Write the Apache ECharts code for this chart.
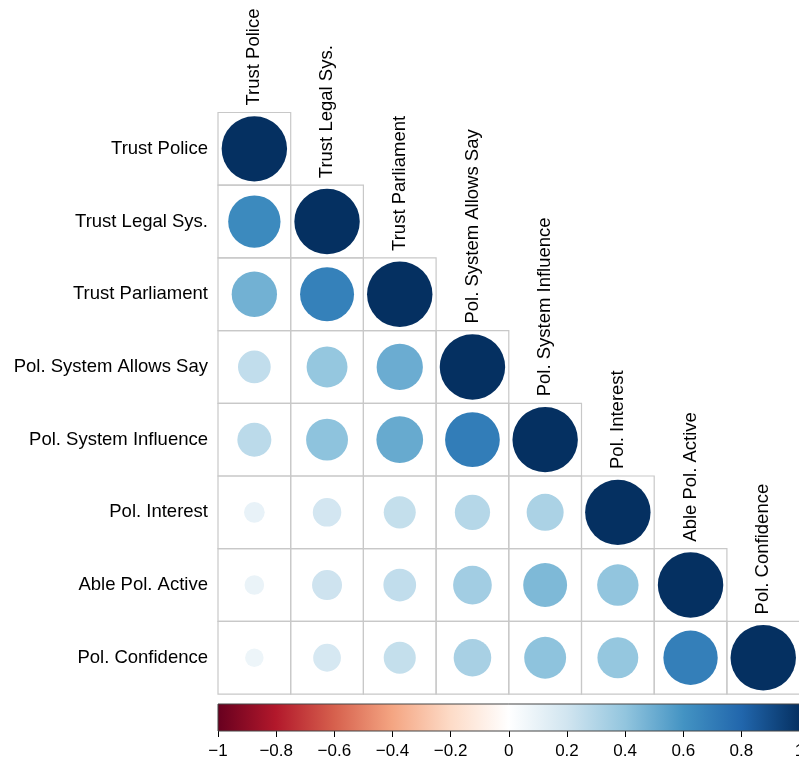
<!DOCTYPE html>
<html>
<head>
<meta charset="utf-8">
<script src="https://cdn.jsdelivr.net/npm/echarts@6/dist/echarts.min.js"></script>
<style>html,body{margin:0;padding:0;background:#fff}#c{width:799px;height:765px}</style>
</head>
<body>
<div id="c"></div>
<script>
// Variable labels (order of rows and columns)
const labels = ["Trust Police", "Trust Legal Sys.", "Trust Parliament", "Pol. System Allows Say",
  "Pol. System Influence", "Pol. Interest", "Able Pol. Active", "Pol. Confidence"];

// Lower-triangle correlations, one array per row (columns 0..row)
const rowTrustPolice   = [1];
const rowTrustLegal    = [0.64, 1];
const rowTrustParl     = [0.48, 0.68, 1];
const rowAllowsSay     = [0.25, 0.39, 0.50, 1];
const rowInfluence     = [0.27, 0.41, 0.51, 0.70, 1];
const rowInterest      = [0.10, 0.19, 0.24, 0.29, 0.32, 1];
const rowAbleActive    = [0.09, 0.21, 0.25, 0.35, 0.45, 0.40, 1];
const rowConfidence    = [0.08, 0.18, 0.24, 0.33, 0.41, 0.39, 0.69, 1];

// Colour bar ticks
const barMin = -1, barMax = 1, barStep = 0.2;

// Palette (corrplot RdBu)
const palette = ["#67001F", "#B2182B", "#D6604D", "#F4A582", "#FDDBC7", "#FFFFFF",
  "#D1E5F0", "#92C5DE", "#4393C3", "#2166AC", "#053061"];

const rows = [rowTrustPolice, rowTrustLegal, rowTrustParl, rowAllowsSay,
  rowInfluence, rowInterest, rowAbleActive, rowConfidence];
const cellData = [];
rows.forEach((r, i) => r.forEach((v, j) => cellData.push([j, i, v])));
const diagData = labels.map((l, i) => [i, i]);

const FONT = '"Liberation Sans", Arial, sans-serif';
const LABEL_SIZE = 18.5;
const chart = echarts.init(document.getElementById('c'));
const gridW = 581.6;

chart.setOption({
  animation: false,
  backgroundColor: '#fff',
  grid: [
    { left: 218, top: 112.5, width: gridW, height: gridW, outerBoundsMode: 'none', containLabel: false },
    { left: 218, top: 704, width: gridW, height: 27, outerBoundsMode: 'none', containLabel: false }
  ],
  xAxis: [
    { type: 'category', data: labels, gridIndex: 0, show: false },
    { type: 'value', gridIndex: 1, min: barMin, max: barMax, interval: barStep,
      position: 'bottom',
      axisLine: { show: false },
      axisTick: { show: true, length: 6, lineStyle: { color: '#000' } },
      splitLine: { show: false },
      axisLabel: { margin: 12, fontSize: 17, color: '#000', fontFamily: FONT,
        formatter: v => { const r = Math.round(v * 10) / 10; return (r < 0 ? '\u2212' : '') + String(Math.abs(r)); } } }
  ],
  yAxis: [
    { type: 'category', data: labels, gridIndex: 0, inverse: true,
      axisLine: { show: false }, axisTick: { show: false }, splitLine: { show: false },
      axisLabel: { fontSize: LABEL_SIZE, color: '#000', fontFamily: FONT, margin: 10 } },
    { type: 'value', gridIndex: 1, min: 0, max: 1, show: false }
  ],
  visualMap: {
    show: false, type: 'continuous', min: -1, max: 1, dimension: 2, seriesIndex: 0,
    inRange: { color: palette }
  },
  series: [
    {
      type: 'custom', xAxisIndex: 0, yAxisIndex: 0, data: cellData,
      renderItem: (params, api) => {
        const c = api.coord([api.value(0), api.value(1)]);
        const s = api.size([1, 1]);
        const v = api.value(2);
        return { type: 'group', children: [
          { type: 'rect', shape: { x: c[0] - s[0] / 2, y: c[1] - s[1] / 2, width: s[0], height: s[1] },
            style: { fill: 'none', stroke: '#c8c8c8', lineWidth: 1.2 } },
          { type: 'circle', shape: { cx: c[0], cy: c[1], r: 0.45 * Math.sqrt(Math.abs(v)) * s[0] },
            style: { fill: api.visual('color') } }
        ] };
      }
    },
    {
      type: 'custom', xAxisIndex: 0, yAxisIndex: 0, data: diagData,
      renderItem: (params, api) => {
        const c = api.coord([api.value(0), api.value(1)]);
        const s = api.size([1, 1]);
        return { type: 'text', x: c[0], y: c[1] - s[1] / 2 - 7, rotation: Math.PI / 2,
          style: { text: labels[params.dataIndex], align: 'left', verticalAlign: 'middle',
            fontSize: LABEL_SIZE, fontFamily: FONT, fill: '#000' } };
      }
    },
    {
      type: 'custom', xAxisIndex: 1, yAxisIndex: 1, data: [[barMin, barMax]],
      renderItem: (params, api) => {
        const p0 = api.coord([api.value(0), 1]);
        const p1 = api.coord([api.value(1), 0]);
        const stops = palette.map((col, k) => ({ offset: k / (palette.length - 1), color: col }));
        return { type: 'rect', shape: { x: p0[0], y: p0[1], width: p1[0] - p0[0], height: p1[1] - p0[1] },
          style: { fill: new echarts.graphic.LinearGradient(0, 0, 1, 0, stops), stroke: '#444', lineWidth: 1 } };
      }
    }
  ]
});
</script>
</body>
</html>
